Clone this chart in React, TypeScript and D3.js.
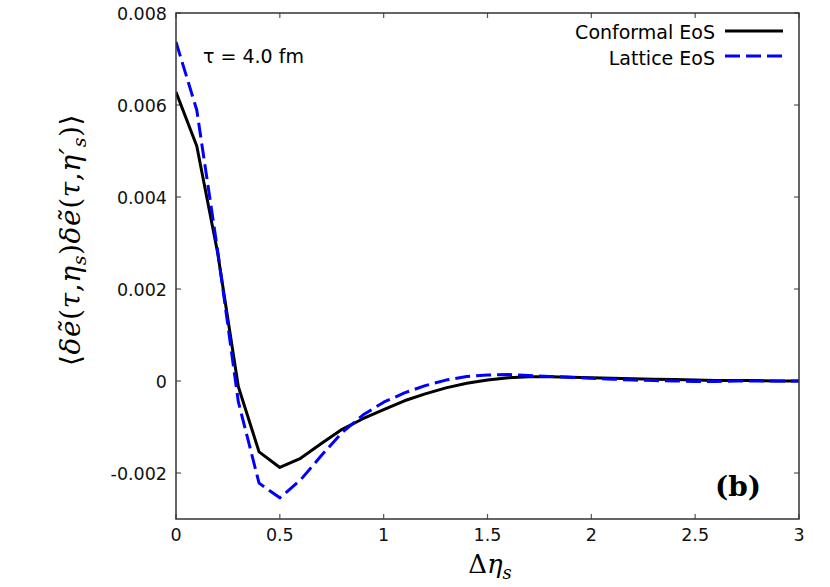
import * as d3 from 'd3';
import React from 'react';

// delta eta_s grid
const etaS = [0, 0.1, 0.2, 0.3, 0.4, 0.5, 0.6, 0.7, 0.8, 0.9, 1.0, 1.1, 1.2, 1.3, 1.4, 1.5, 1.6, 1.7, 1.8, 1.9, 2.0, 2.1, 2.2, 2.3, 2.4, 2.5, 2.6, 2.7, 2.8, 2.9, 3.0];

const conformal = [0.00628, 0.00511, 0.0028, -0.00012, -0.00154, -0.00188, -0.00168, -0.00136, -0.00105, -0.00082, -0.00062, -0.00043, -0.00028, -0.00015, -0.00005, 0.00002, 0.00007, 0.00009, 0.00009, 0.00008, 0.00007, 0.00006, 0.00005, 0.00004, 0.00003, 0.00002, 0.00001, 0.00001, 0.00001, 0.0, 0.0];

const lattice = [0.00737, 0.00589, 0.00285, -0.00045, -0.00222, -0.00254, -0.00215, -0.00162, -0.00112, -0.00074, -0.00046, -0.00026, -0.0001, 0.00002, 0.0001, 0.00013, 0.00014, 0.00012, 0.0001, 0.00008, 0.00006, 0.00004, 0.00002, 0.00001, 0.0, -0.00001, -0.00001, 0.0, 0.0, 0.0, 0.0];

const xTicks = [0, 0.5, 1, 1.5, 2, 2.5, 3];
const yTicks = [-0.002, 0, 0.002, 0.004, 0.006, 0.008];
const seriesNames = ['Conformal EoS', 'Lattice EoS'];

const width = 830;
const height = 587;
const margin = { left: 176, right: 31, top: 13, bottom: 68 };
const sans = "'DejaVu Sans', 'Liberation Sans', Arial, sans-serif";
const mathFont = "'DejaVu Serif', 'Liberation Serif', serif";
const dash = '15,6';

export default function App() {
  const x = d3.scaleLinear().domain([0, 3]).range([margin.left, width - margin.right]);
  const y = d3.scaleLinear().domain([-0.003, 0.008]).range([height - margin.bottom, margin.top]);

  const line = d3
    .line<number>()
    .x((d, i) => x(etaS[i]))
    .y((d) => y(d));

  const x0 = x(0);
  const x1 = x(3);
  const y0 = y(-0.003);
  const y1 = y(0.008);
  const tick = 5;

  // plain hyphen for negatives, like the original
  const fmt = (v: number) => (v === 0 ? '0' : d3.format('.3f')(v).replace('−', '-'));

  return (
    <svg
      width={width}
      height={height}
      style={{ position: 'absolute', left: 0, top: 0, background: '#fff' }}
    >
      <defs>
        <clipPath id="plot">
          <rect x={x0} y={y1} width={x1 - x0} height={y0 - y1} />
        </clipPath>
      </defs>

      {/* ticks, inward on all four sides */}
      {xTicks.map((t) => (
        <g key={'x' + t}>
          <line x1={x(t)} x2={x(t)} y1={y0} y2={y0 - tick} stroke="#555" strokeWidth={1.2} />
          <line x1={x(t)} x2={x(t)} y1={y1} y2={y1 + tick} stroke="#555" strokeWidth={1.2} />
          <text x={x(t)} y={y0 + 22} textAnchor="middle" fontFamily={sans} fontSize={17.5} fill="#111">
            {t}
          </text>
        </g>
      ))}
      {yTicks.map((t) => (
        <g key={'y' + t}>
          <line x1={x0} x2={x0 + tick} y1={y(t)} y2={y(t)} stroke="#555" strokeWidth={1.2} />
          <line x1={x1} x2={x1 - tick} y1={y(t)} y2={y(t)} stroke="#555" strokeWidth={1.2} />
          <text x={x0 - 9} y={y(t) + 6.5} textAnchor="end" fontFamily={sans} fontSize={17.5} fill="#111">
            {fmt(t)}
          </text>
        </g>
      ))}

      <g clipPath="url(#plot)" fill="none" strokeLinejoin="round">
        <path d={line(conformal) ?? ''} stroke="#000" strokeWidth={3} />
        <path d={line(lattice) ?? ''} stroke="#0000ff" strokeWidth={3} strokeDasharray={dash} />
      </g>

      <rect x={x0} y={y1} width={x1 - x0} height={y0 - y1} fill="none" stroke="#333" strokeWidth={1.5} />

      {/* legend */}
      <g fontFamily={sans} fontSize={19} fill="#000">
        <text x={715} y={39} textAnchor="end">{seriesNames[0]}</text>
        <line x1={725} x2={783} y1={31} y2={31} stroke="#000" strokeWidth={3} />
        <text x={715} y={65} textAnchor="end">{seriesNames[1]}</text>
        <line x1={725} x2={783} y1={56} y2={56} stroke="#0000ff" strokeWidth={3} strokeDasharray={dash} />
      </g>

      <text x={203} y={63} fontFamily={sans} fontSize={19} fill="#000">
        τ = 4.0 fm
      </text>

      <text x={738} y={496} fontFamily={mathFont} fontSize={28} fontWeight="bold" textAnchor="middle" fill="#000">
        (b)
      </text>

      {/* axis titles */}
      <text x={490} y={573} textAnchor="middle" fontFamily={mathFont} fontSize={26} fill="#000">
        Δ<tspan fontStyle="italic">η</tspan>
        <tspan fontStyle="italic" fontSize={18} dy={6}>s</tspan>
      </text>

      <text
        transform={`translate(80, 240) rotate(-90)`}
        textAnchor="middle"
        fontFamily={mathFont}
        fontSize={28}
        letterSpacing={0.6}
        fill="#000"
      >
        ⟨<tspan fontStyle="italic">δẽ</tspan>(<tspan fontStyle="italic">τ</tspan>,<tspan fontStyle="italic">η</tspan>
        <tspan fontStyle="italic" fontSize={19} dy={6}>s</tspan>
        <tspan dy={-6}>)</tspan>
        <tspan fontStyle="italic">δẽ</tspan>(<tspan fontStyle="italic">τ</tspan>,<tspan fontStyle="italic">η′</tspan>
        <tspan fontStyle="italic" fontSize={19} dy={6}>s</tspan>
        <tspan dy={-6}>)⟩</tspan>
      </text>
    </svg>
  );
}
